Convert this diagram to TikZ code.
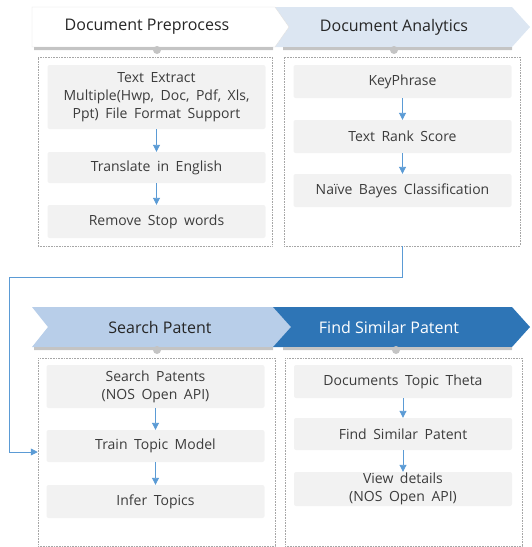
\documentclass[tikz,border=0pt]{standalone}
\usepackage{fontspec}
\setmainfont{Open Sans}
\newfontfamily\stepfont[WordSpace=1.8]{Open Sans}
\usetikzlibrary{arrows.meta}
\definecolor{paleblue}{HTML}{DCE6F2}
\definecolor{softblue}{HTML}{B8CEE9}
\definecolor{deepblue}{HTML}{2E75B6}
\definecolor{flowblue}{HTML}{5B9BD5}
\definecolor{boxgray}{HTML}{F2F2F2}
\definecolor{shadowgray}{HTML}{C4C4C4}
\definecolor{inkgray}{HTML}{262626}

\tikzset{
  panel/.style={draw=gray!70, dash pattern=on 0.8pt off 0.8pt, line width=0.5pt, inner sep=0pt},
  stepbox/.style={fill=boxgray, rounded corners=2pt, minimum width=218pt, minimum height=33pt, inner sep=0pt, align=center, text=inkgray!90},
  flow/.style={draw=flowblue, line width=0.9pt, -{Triangle[length=7pt, width=7pt]}},
  phase/.style={font=\fontsize{16}{19}\selectfont, text=inkgray}
}

\begin{document}
\begin{tikzpicture}[x=1pt, y=-1pt, font=\stepfont\fontsize{14}{18}\selectfont]
  \useasboundingbox (0,0) rectangle (532,547);

  % top phase arrows
  \fill[paleblue] (275,7) -- (512,7) -- (530,27) -- (512,47) -- (275,47) -- (289,27) -- cycle;
  \filldraw[fill=white, draw=gray!25] (32,7) -- (275,7) -- (289,27) -- (275,47) -- (32,47) -- cycle;
  \fill[shadowgray] (34,47) rectangle (273,50) (283,47) rectangle (512,50);
  \fill[shadowgray] (157,50) circle (4) (394,50) circle (4);
  \node[phase] (pre) at (147,27) {Document Preprocess};
  \node[phase] (ana) at (394,27) {Document Analytics};

  % bottom phase arrows
  \fill[softblue] (32,307) -- (273,307) -- (291,327) -- (273,347) -- (32,347) -- (48,327) -- cycle;
  \fill[deepblue] (273,307) -- (512,307) -- (530,327) -- (512,347) -- (273,347) -- (291,327) -- cycle;
  \fill[shadowgray] (34,347) rectangle (273,350) (283,347) rectangle (512,350);
  \fill[shadowgray] (157,350) circle (4) (396,350) circle (4);
  \node[phase] (sea) at (160,327) {Search Patent};
  \node[phase, text=white] (sim) at (389,327) {Find Similar Patent};

  % panels
  \node[panel, minimum width=234pt, minimum height=189pt] (pa) at (155,151.5) {};
  \node[panel, minimum width=236pt, minimum height=189pt] (pb) at (402,151.5) {};
  \node[panel, minimum width=237pt, minimum height=188pt] (pc) at (156.5,452) {};
  \node[panel, minimum width=237pt, minimum height=188pt] (pd) at (403.5,452) {};

  % preprocess steps
  \node[stepbox, minimum height=64pt] (a1) at (156.5,97) {Text Extract\\Multiple(Hwp, Doc, Pdf, Xls,\\Ppt) File Format Support};
  \node[stepbox, minimum height=31pt] (a2) at (156.5,167.5) {Translate in English};
  \node[stepbox] (a3) at (156.5,221.5) {Remove Stop words};

  % analytics steps
  \node[stepbox] (b1) at (402.5,81.5) {KeyPhrase};
  \node[stepbox] (b2) at (402.5,136.5) {Text Rank Score};
  \node[stepbox] (b3) at (402.5,190.5) {Naïve Bayes Classification};

  % search steps
  \node[stepbox, minimum height=43pt] (c1) at (155.5,386.5) {Search Patents\\(NOS Open API)};
  \node[stepbox, minimum height=32pt] (c2) at (155.5,446) {Train Topic Model};
  \node[stepbox] (c3) at (155.5,501.5) {Infer Topics};

  % similar patent steps
  \node[stepbox] (d1) at (403,381.5) {Documents Topic Theta};
  \node[stepbox, minimum height=32pt] (d2) at (403,434) {Find Similar Patent};
  \node[stepbox, minimum height=34pt] (d3) at (403,489) {View details\\(NOS Open API)};

  \foreach \u/\v in {a1/a2, a2/a3, b1/b2, b2/b3, c1/c2, c2/c3, d1/d2, d2/d3}
    \draw[flow] (\u) -- (\v);

  % hand over from analytics to search
  \draw[flow] (pb.south) -- ++(0,31) -| ([xshift=-28pt]pc.west) -- (pc.west);
\end{tikzpicture}
\end{document}
